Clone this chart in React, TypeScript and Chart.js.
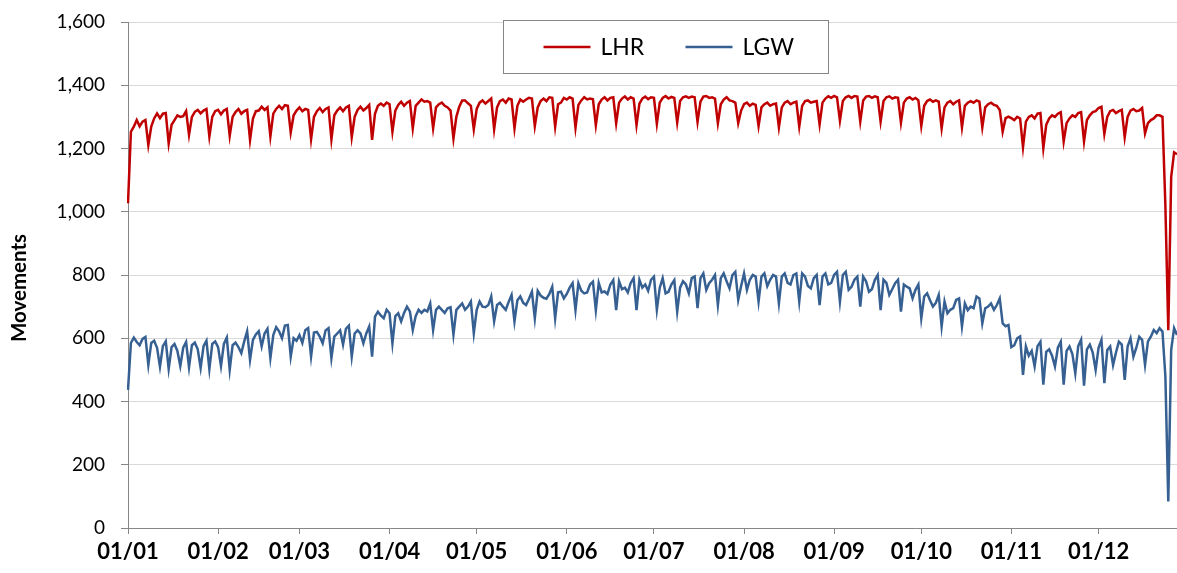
import React, { useEffect, useRef } from 'react';
import { Chart, registerables } from 'chart.js';

Chart.register(...registerables);

// Daily aircraft movements, 1 Jan - 28 Dec (one row per week, Sat..Fri)
const lhrMovements: number[] = [
  1027, 1253, 1269, 1290, 1270, 1285, 1290,
  1211, 1269, 1295, 1311, 1296, 1310, 1312,
  1216, 1275, 1290, 1305, 1300, 1302, 1318,
  1243, 1300, 1316, 1322, 1311, 1320, 1325,
  1238, 1300, 1318, 1322, 1308, 1320, 1325,
  1240, 1300, 1315, 1325, 1310, 1318, 1322,
  1227, 1295, 1318, 1320, 1332, 1322, 1330,
  1238, 1310, 1325, 1335, 1325, 1337, 1335,
  1251, 1305, 1320, 1330, 1318, 1325, 1322,
  1229, 1300, 1318, 1328, 1315, 1325, 1330,
  1229, 1305, 1320, 1330, 1318, 1330, 1335,
  1236, 1300, 1322, 1332, 1320, 1328, 1338,
  1227, 1310, 1335, 1342, 1335, 1345, 1340,
  1253, 1320, 1338, 1348, 1335, 1345, 1350,
  1264, 1335, 1345, 1355, 1348, 1350, 1345,
  1264, 1330, 1340, 1345, 1335, 1330, 1320,
  1232, 1300, 1332, 1352, 1352, 1343, 1335,
  1261, 1325, 1345, 1352, 1342, 1350, 1358,
  1261, 1330, 1350, 1355, 1345, 1358, 1355,
  1264, 1335, 1355, 1348, 1355, 1360, 1358,
  1271, 1330, 1350, 1358, 1350, 1362, 1360,
  1269, 1340, 1345, 1360, 1355, 1362, 1358,
  1266, 1338, 1352, 1362, 1355, 1358, 1356,
  1274, 1340, 1355, 1362, 1352, 1360, 1362,
  1280, 1345, 1358, 1365, 1355, 1362, 1358,
  1274, 1342, 1358, 1364, 1356, 1362, 1360,
  1278, 1345, 1360, 1366, 1358, 1363, 1360,
  1282, 1350, 1362, 1365, 1360, 1364, 1362,
  1284, 1348, 1364, 1366, 1360, 1362, 1358,
  1280, 1340, 1355, 1362, 1352, 1350, 1345,
  1280, 1320, 1340, 1345, 1335, 1342, 1338,
  1271, 1330, 1340, 1345, 1335, 1340, 1342,
  1267, 1330, 1345, 1350, 1340, 1345, 1348,
  1269, 1335, 1350, 1352, 1345, 1348, 1350,
  1276, 1345, 1358, 1365, 1360, 1366, 1362,
  1288, 1350, 1362, 1366, 1360, 1366, 1364,
  1285, 1352, 1364, 1366, 1360, 1365, 1362,
  1285, 1350, 1362, 1365, 1358, 1362, 1360,
  1282, 1345, 1358, 1362, 1355, 1360, 1352,
  1271, 1335, 1350, 1355, 1348, 1352, 1348,
  1264, 1330, 1345, 1350, 1340, 1348, 1352,
  1267, 1335, 1345, 1350, 1345, 1352, 1348,
  1267, 1330, 1340, 1345, 1338, 1335, 1322,
  1253, 1296, 1301, 1296, 1290, 1300, 1295,
  1204, 1285, 1300, 1305, 1295, 1310, 1312,
  1201, 1275, 1295, 1305, 1300, 1310, 1315,
  1222, 1280, 1295, 1305, 1300, 1312, 1315,
  1222, 1290, 1305, 1315, 1318, 1328, 1332,
  1246, 1300, 1318, 1322, 1312, 1318, 1322,
  1236, 1300, 1320, 1325, 1318, 1320, 1328,
  1248, 1280, 1290, 1295, 1305, 1305, 1300,
  1020, 625, 1110, 1188, 1182,
];

const lgwMovements: number[] = [
  437, 585, 602, 588, 578, 598, 604,
  516, 585, 592, 570, 510, 575, 590,
  503, 572, 582, 560, 512, 570, 588,
  508, 578, 586, 565, 506, 575, 592,
  502, 582, 590, 572, 512, 582, 602,
  500, 578, 586, 572, 553, 590, 622,
  532, 595, 612, 622, 574, 615, 630,
  537, 610, 635, 622, 600, 640, 642,
  542, 600, 592, 610, 585, 625, 632,
  542, 618, 620, 605, 584, 625, 632,
  537, 605, 615, 625, 580, 630, 640,
  542, 615, 625, 615, 584, 615, 637,
  542, 668, 684, 672, 663, 690, 679,
  584, 670, 679, 653, 680, 700, 685,
  626, 670, 690, 680, 690, 685, 710,
  626, 690, 700, 690, 680, 695, 698,
  611, 690, 700, 710, 690, 700, 716,
  616, 690, 716, 700, 698, 705, 732,
  653, 705, 712, 700, 690, 715, 737,
  653, 720, 732, 712, 705, 725, 747,
  663, 750, 735, 728, 725, 740, 763,
  663, 745, 747, 726, 740, 760, 774,
  689, 774, 750, 742, 745, 770, 779,
  689, 775, 745, 748, 740, 770, 784,
  689, 780, 755, 760, 745, 775, 790,
  689, 785, 760, 770, 750, 785, 795,
  690, 760, 790, 742, 747, 770, 784,
  684, 760, 780, 770, 742, 790, 795,
  695, 790, 805, 753, 774, 785, 800,
  705, 790, 805, 780, 758, 800, 810,
  721, 765, 805, 753, 785, 800, 795,
  716, 795, 805, 765, 785, 800, 795,
  710, 795, 805, 775, 770, 800, 805,
  716, 805, 795, 765, 758, 790, 800,
  705, 795, 805, 770, 775, 800, 810,
  716, 800, 810, 753, 763, 785, 795,
  700, 795, 780, 747, 755, 784, 800,
  689, 785, 775, 737, 755, 774, 785,
  684, 770, 763, 758, 726, 753, 770,
  663, 732, 742, 720, 700, 712, 737,
  637, 716, 679, 690, 695, 721, 726,
  637, 710, 689, 700, 695, 732, 726,
  647, 695, 700, 710, 690, 705, 726,
  647, 638, 642, 572, 578, 600, 606,
  484, 574, 545, 560, 511, 575, 589,
  453, 557, 565, 545, 511, 570, 589,
  453, 560, 574, 550, 489, 575, 595,
  450, 565, 580, 555, 500, 570, 595,
  458, 563, 574, 515, 555, 589, 580,
  468, 574, 600, 542, 570, 605, 595,
  516, 590, 605, 626, 616, 632, 621,
  480, 84, 563, 632, 610,
];

const seriesNames: string[] = ['LHR', 'LGW'];
const seriesColors: string[] = ['#C00000', '#376092'];
const yTickValues: number[] = [0, 200, 400, 600, 800, 1000, 1200, 1400, 1600];
const yAxisTitle = 'Movements';
const startYear = 2011;

// Category labels dd/mm for each day
const dayLabels: string[] = lhrMovements.map((_, i) => {
  const d = new Date(Date.UTC(startYear, 0, 1 + i));
  const dd = String(d.getUTCDate()).padStart(2, '0');
  const mm = String(d.getUTCMonth() + 1).padStart(2, '0');
  return `${dd}/${mm}`;
});

const FONT = 'Lato, "Open Sans", sans-serif';

const boxLegend = {
  id: 'boxLegend',
  afterDatasetsDraw(chart: any) {
    const { ctx } = chart;
    const x0 = 503.5;
    const y0 = 20.5;
    const w = 325;
    const h = 53;
    ctx.save();
    ctx.fillStyle = '#ffffff';
    ctx.fillRect(x0, y0, w, h);
    ctx.strokeStyle = '#868686';
    ctx.lineWidth = 1;
    ctx.strokeRect(x0, y0, w, h);
    const cy = y0 + h / 2;
    chart.data.datasets.forEach((ds: any, i: number) => {
      const lx = x0 + 40 + i * 142;
      ctx.strokeStyle = ds.borderColor;
      ctx.lineWidth = 2.5;
      ctx.beginPath();
      ctx.moveTo(lx, cy);
      ctx.lineTo(lx + 47, cy);
      ctx.stroke();
      ctx.fillStyle = '#000';
      ctx.font = `23px ${FONT}`;
      ctx.textBaseline = 'middle';
      ctx.textAlign = 'left';
      ctx.fillText(ds.label, lx + 57, cy + 1);
    });
    ctx.restore();
  },
};

const yTitlePlugin = {
  id: 'yTitle',
  afterDraw(chart: any) {
    const { ctx } = chart;
    ctx.save();
    ctx.translate(19, 288);
    ctx.rotate(-Math.PI / 2);
    ctx.fillStyle = '#000';
    ctx.font = `bold 20.5px ${FONT}`;
    ctx.textAlign = 'center';
    ctx.textBaseline = 'middle';
    ctx.fillText(yAxisTitle, 0, 0);
    ctx.restore();
  },
};

export default function App() {
  const canvasRef = useRef<HTMLCanvasElement | null>(null);

  useEffect(() => {
    const canvas = canvasRef.current;
    if (!canvas) return;
    const chart = new Chart(canvas, {
      type: 'line',
      data: {
        labels: dayLabels,
        datasets: [
          {
            label: seriesNames[0],
            data: lhrMovements,
            borderColor: seriesColors[0],
            backgroundColor: seriesColors[0],
            borderWidth: 2.5,
            pointRadius: 0,
            pointHoverRadius: 0,
            tension: 0,
          },
          {
            label: seriesNames[1],
            data: lgwMovements,
            borderColor: seriesColors[1],
            backgroundColor: seriesColors[1],
            borderWidth: 2.5,
            pointRadius: 0,
            pointHoverRadius: 0,
            tension: 0,
          },
        ],
      },
      options: {
        animation: false,
        responsive: false,
        maintainAspectRatio: false,
        events: [],
        layout: { autoPadding: false, padding: { top: 22, right: 0, left: 0, bottom: 0 } },
        plugins: {
          legend: { display: false },
          tooltip: { enabled: false },
        },
        scales: {
          x: {
            type: 'category',
            offset: false,
            grid: {
              display: true,
              drawOnChartArea: false,
              drawTicks: true,
              tickLength: 6,
              tickColor: '#868686',
            },
            border: { display: true, color: '#868686', width: 1 },
            ticks: {
              autoSkip: false,
              maxRotation: 0,
              minRotation: 0,
              color: '#000',
              padding: 5,
              font: { family: FONT, size: 22, weight: 'bold' },
            },
            afterBuildTicks: (scale: any) => {
              scale.ticks = scale.ticks.filter((t: any) => dayLabels[t.value].startsWith('01/'));
            },
            afterFit: (scale: any) => {
              scale.height = 45;
              scale.paddingTop = 0;
              scale.paddingBottom = 0;
            },
          },
          y: {
            min: 0,
            max: 1600,
            afterBuildTicks: (scale: any) => {
              scale.ticks = yTickValues.map((v) => ({ value: v }));
            },
            ticks: {
              color: '#000',
              padding: 16,
              font: { family: FONT, size: 19 },
              callback: (v: any) => Number(v).toLocaleString('en-US'),
            },
            grid: {
              color: '#d9d9d9',
              lineWidth: 1,
              tickLength: 7,
              tickColor: '#868686',
            },
            border: { display: true, color: '#868686', width: 1 },
            title: { display: false },
            afterFit: (scale: any) => {
              scale.width = 128;
              scale.paddingTop = 0;
              scale.paddingBottom = 0;
            },
          },
        },
      },
      plugins: [boxLegend, yTitlePlugin],
    });
    return () => chart.destroy();
  }, []);

  return (
    <div style={{ position: 'absolute', left: 0, top: 0, width: 1177, height: 573, background: '#fff' }}>
      <canvas ref={canvasRef} width={1177} height={573} />
    </div>
  );
}
